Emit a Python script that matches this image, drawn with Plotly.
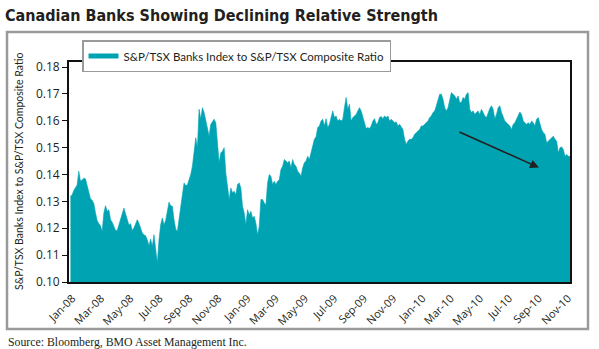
import pandas as pd
import plotly.graph_objects as go

# S&P/TSX Banks Index to S&P/TSX Composite ratio (about twice a week)
ratio = [
    0.1319, 0.1324, 0.1341, 0.1354, 0.1361, 0.1412, 0.1376, 0.1380, 0.1386, 0.1384,
    0.1356, 0.1329, 0.1310, 0.1304, 0.1292, 0.1257, 0.1229, 0.1217, 0.1209, 0.1188,
    0.1257, 0.1284, 0.1263, 0.1269, 0.1232, 0.1222, 0.1207, 0.1192, 0.1192, 0.1214,
    0.1234, 0.1257, 0.1275, 0.1254, 0.1229, 0.1212, 0.1217, 0.1192, 0.1201, 0.1216,
    0.1232, 0.1219, 0.1197, 0.1182, 0.1176, 0.1172, 0.1157, 0.1135, 0.1160, 0.1132,
    0.1176, 0.1120, 0.1070, 0.1157, 0.1213, 0.1238, 0.1213, 0.1229, 0.1269, 0.1297,
    0.1284, 0.1282, 0.1232, 0.1197, 0.1188, 0.1238, 0.1284, 0.1325, 0.1369, 0.1359,
    0.1361, 0.1381,
    0.1400, 0.1431, 0.1493, 0.1537, 0.1500, 0.1643, 0.1606, 0.1649, 0.1631, 0.1599,
    0.1562, 0.1543, 0.1587, 0.1599, 0.1606, 0.1593, 0.1518, 0.1444, 0.1481, 0.1487,
    0.1500, 0.1406, 0.1356, 0.1307, 0.1350, 0.1332, 0.1338, 0.1325, 0.1363, 0.1369,
    0.1350, 0.1282, 0.1257, 0.1213, 0.1269, 0.1250, 0.1263, 0.1238, 0.1245, 0.1219,
    0.1176, 0.1207, 0.1307, 0.1307, 0.1294, 0.1288, 0.1369, 0.1400, 0.1394, 0.1363,
    0.1375, 0.1363, 0.1375, 0.1381, 0.1419, 0.1431, 0.1456, 0.1450, 0.1444, 0.1450,
    0.1425, 0.1456, 0.1437, 0.1431, 0.1412, 0.1406, 0.1394, 0.1425, 0.1444, 0.1450,
    0.1468, 0.1456, 0.1481, 0.1500, 0.1531,
    0.1540, 0.1575, 0.1581, 0.1599, 0.1606, 0.1581, 0.1608, 0.1575, 0.1587, 0.1618,
    0.1637, 0.1612, 0.1618, 0.1599, 0.1606, 0.1599, 0.1606, 0.1649, 0.1687, 0.1643,
    0.1662, 0.1599, 0.1612, 0.1618, 0.1624, 0.1637, 0.1649, 0.1637, 0.1612, 0.1587,
    0.1571, 0.1575, 0.1571, 0.1581, 0.1599, 0.1608, 0.1587, 0.1593, 0.1612, 0.1616,
    0.1608, 0.1618, 0.1612, 0.1618, 0.1599, 0.1606, 0.1599, 0.1593, 0.1596, 0.1581,
    0.1587, 0.1575, 0.1568, 0.1531, 0.1512, 0.1525, 0.1531, 0.1531, 0.1537, 0.1550,
    0.1556, 0.1562, 0.1568, 0.1581, 0.1581, 0.1587, 0.1593, 0.1599, 0.1612, 0.1618,
    0.1631, 0.1637, 0.1656, 0.1674, 0.1699,
    0.1699, 0.1680, 0.1649, 0.1637, 0.1649, 0.1680, 0.1705, 0.1699, 0.1693, 0.1680,
    0.1693, 0.1668, 0.1668, 0.1687, 0.1680, 0.1699, 0.1705, 0.1643, 0.1631, 0.1637,
    0.1624, 0.1631, 0.1637, 0.1624, 0.1643, 0.1631, 0.1618, 0.1612, 0.1631, 0.1646,
    0.1656, 0.1643, 0.1608, 0.1624, 0.1649, 0.1656, 0.1631, 0.1618, 0.1599, 0.1593,
    0.1587, 0.1581, 0.1568, 0.1587, 0.1593, 0.1606, 0.1624, 0.1633, 0.1624, 0.1599,
    0.1593, 0.1587, 0.1593, 0.1587, 0.1599, 0.1593, 0.1581, 0.1606, 0.1612, 0.1587,
    0.1568, 0.1556, 0.1550, 0.1518, 0.1525, 0.1531, 0.1537, 0.1543, 0.1531, 0.1525,
    0.1481, 0.1500, 0.1503, 0.1493, 0.1468, 0.1475, 0.1468, 0.1468,
]
dates = pd.date_range("2007-12-28", "2010-11-05", periods=len(ratio))

series_name = "S&P/TSX Banks Index to S&P/TSX Composite Ratio"
title_text = "Canadian Banks Showing Declining Relative Strength"
source_text = "Source: Bloomberg, BMO Asset Management Inc."
y_title = "S&P/TSX Banks Index to S&P/TSX Composite Ratio"

# trend arrow (tail -> head)
arrow_tail = ("2010-03-16", 0.1561)
arrow_head = ("2010-09-01", 0.1426)

TEAL = "#00A3B2"
INK = "#231f20"

fig = go.Figure()
fig.add_trace(go.Scatter(
    x=dates, y=ratio, mode="lines", fill="tozeroy",
    line=dict(color=TEAL, width=0.6), fillcolor=TEAL,
    showlegend=False, hoverinfo="skip",
))
# legend entry (swatch)
fig.add_trace(go.Scatter(
    x=[None], y=[None], mode="lines", name=series_name,
    line=dict(color=TEAL, width=5),
))

W, H = 599, 349
L, R, T, B = 69, 29, 62, 67
pw, ph = W - L - R, H - T - B

def px(xp):
    return (xp - L) / pw

def py(yp):
    return (H - B - yp) / ph

fig.update_layout(
    width=W, height=H,
    margin=dict(l=L, r=R, t=T, b=B),
    paper_bgcolor="white", plot_bgcolor="white",
    font=dict(family="Open Sans, Lato, sans-serif", color=INK),
    title=dict(
        text="<b>" + title_text + "</b>",
        xref="container", yref="container",
        x=5 / W, xanchor="left", y=1 - 15 / H, yanchor="middle",
        font=dict(family="DejaVu Sans Condensed, Lato", size=16, color=INK),
    ),
    xaxis=dict(
        type="date",
        range=["2007-12-25", "2010-11-05"],
        tick0="2008-01-01", dtick="M2", tickformat="%b-%y",
        tickangle=-45, ticks="", showgrid=False, zeroline=False,
        showline=True, linecolor="#111", linewidth=1.5, mirror=True,
        tickfont=dict(family="Open Sans", size=11, color=INK),
        ticklabelstandoff=4,
    ),
    yaxis=dict(
        range=[0.10, 0.1819], dtick=0.01, tick0=0.10, tickformat=".2f",
        ticks="outside", ticklen=5, tickwidth=1.3, tickcolor="#111",
        showgrid=False, zeroline=False,
        showline=True, linecolor="#111", linewidth=1.8, mirror=True,
        tickfont=dict(family="Open Sans", size=12, color=INK),
    ),
    legend=dict(
        x=px(82), y=py(40), xanchor="left", yanchor="top",
        bgcolor="white", bordercolor="#9a9a9a", borderwidth=1.5,
        font=dict(family="Lato", size=11.5, color=INK),
        itemwidth=30,
    ),
    shapes=[
        dict(type="rect", xref="paper", yref="paper", layer="below",
             x0=px(7), x1=px(588), y0=py(329), y1=py(32),
             line=dict(color="#9a9a9a", width=2.5), fillcolor="rgba(0,0,0,0)"),
    ],
    annotations=[
        dict(xref="paper", yref="paper", x=px(19), y=0.5, text=y_title,
             textangle=-90, showarrow=False, xanchor="center", yanchor="middle",
             font=dict(family="Lato", size=10.5, color=INK)),
        dict(xref="paper", yref="paper", x=px(6), y=py(342), text=source_text,
             showarrow=False, xanchor="left", yanchor="middle",
             font=dict(family="Liberation Serif", size=11.8, color=INK)),
        dict(x=arrow_head[0], y=arrow_head[1], ax=arrow_tail[0], ay=arrow_tail[1],
             xref="x", yref="y", axref="x", ayref="y", text="",
             showarrow=True, arrowhead=2, arrowsize=1.1, arrowwidth=1.6,
             arrowcolor=INK),
    ],
)

fig.write_html("out.html")
